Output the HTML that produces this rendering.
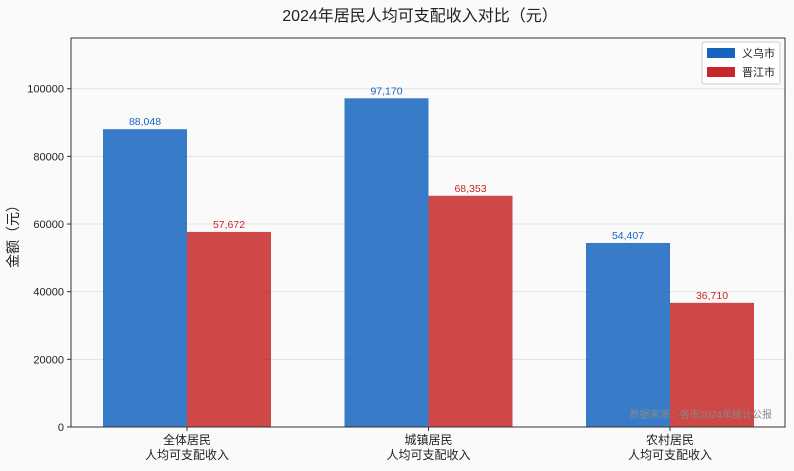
<!DOCTYPE html>
<html><head><meta charset="utf-8"><style>
body{margin:0;background:#fafafa;}
svg{display:block;font-family:"Liberation Sans","Noto Sans CJK SC",sans-serif;}
</style></head><body>
<svg id="c" width="794" height="471" xmlns="http://www.w3.org/2000/svg">
<rect width="794" height="471" fill="#fafafa"/>
<text x="420" y="21" text-anchor="middle" font-size="16" fill="#222">2024年居民人均可支配收入对比（元）</text>
<g id="grid"></g><g id="bars"></g><g id="axes"></g>
<text transform="translate(18,233) rotate(-90)" text-anchor="middle" font-size="14" fill="#222">金额（元）</text>
<text x="772" y="418" text-anchor="end" font-size="10" fill="#888">数据来源：各市2024年统计公报</text>
<g>
<rect x="702" y="42" width="78" height="42" fill="#fff" stroke="#ccc" rx="2"/>
<g><rect x="707" y="48" width="28" height="10" fill="#1565c0"/><text x="742" y="57" font-size="11" fill="#222">义乌市</text></g>
<g><rect x="707" y="67" width="28" height="10" fill="#c62828"/><text x="742" y="76" font-size="11" fill="#222">晋江市</text></g>
</g>
</svg>
<script>
const categories=[["全体居民","人均可支配收入"],["城镇居民","人均可支配收入"],["农村居民","人均可支配收入"]];
const yiwu=[88048,97170,54407];
const jinjiang=[57672,68353,36710];
const yTicks=[0,20000,40000,60000,80000,100000];
const L=71,R=785,T=38,B=427,YMAX=115000;
const y=v=>B-v/YMAX*(B-T);
const x=i=>187+i*241.5;
const bw=84;
const NS="http://www.w3.org/2000/svg";
function mk(tag,attrs,parent,txt){const e=document.createElementNS(NS,tag);for(const k in attrs)e.setAttribute(k,attrs[k]);if(txt!=null)e.textContent=txt;parent.appendChild(e);return e;}
const grid=document.getElementById('grid'),bars=document.getElementById('bars'),axes=document.getElementById('axes');
mk('rect',{x:L,y:T,width:R-L,height:B-T,fill:'#fafafa'},grid);
yTicks.forEach(t=>{
  const g=mk('line',{x1:L,x2:R,y1:y(t),y2:y(t),stroke:'#e2e2e2','stroke-width':1},grid);
  
  
  mk('line',{x1:L-4,x2:L,y1:y(t),y2:y(t),stroke:'#333'},axes);
  const tl=mk('text',{x:L-7,y:y(t)+4,'text-anchor':'end','font-size':11,fill:'#222'},axes,String(t));
  
  
});
function series(arr,off,fill,txtc,name){
  arr.forEach((v,i)=>{
    const r=mk('rect',{x:x(i)+off,y:y(v),width:bw,height:B-y(v),fill:fill,'fill-opacity':0.85},bars);
    
    
    const t=mk('text',{x:x(i)+off+bw/2,y:y(v)-4,'text-anchor':'middle','font-size':10.5,fill:txtc},bars,v.toLocaleString('en-US'));
    
    
  });
}
series(yiwu,-bw,'#1565c0','#1565c0','yiwu');
series(jinjiang,0,'#c62828','#c62828','jinjiang');
mk('rect',{x:L,y:T,width:R-L,height:B-T,fill:'none',stroke:'#333','stroke-width':1},axes);
categories.forEach((c,i)=>{
  mk('line',{x1:x(i),x2:x(i),y1:B,y2:B+4,stroke:'#333'},axes);
  c.forEach((s,j)=>{
    const t=mk('text',{x:x(i),y:B+17+j*15,'text-anchor':'middle','font-size':12,fill:'#222'},axes,s);
    
    
  });
});
</script>
</body></html>
